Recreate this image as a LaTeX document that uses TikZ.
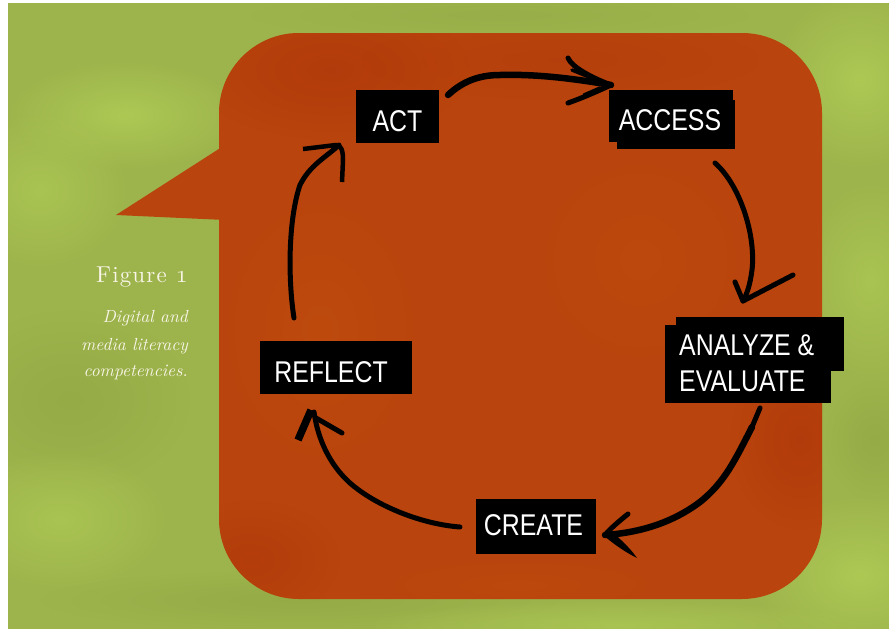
\documentclass[tikz,border=0pt]{standalone}
\usepackage{fontspec}
\newfontfamily\boxfont[FakeStretch=0.83]{Liberation Sans}
\newfontfamily\capfont{lmroman10}[Extension=.otf, UprightFont=*-regular,
  ItalicFont=*-italic, BoldFont=*-bold]
\usetikzlibrary{fadings}

\definecolor{leaf}{HTML}{9DB44C}
\definecolor{leaflight}{HTML}{AFCB55}
\definecolor{leafdark}{HTML}{8CA241}
\definecolor{rust}{HTML}{B9440D}
\definecolor{rustdark}{HTML}{AE360A}
\definecolor{rustlight}{HTML}{C2500F}
\definecolor{cream}{HTML}{F8F4E6}

\tikzfading[name=softspot, inner color=transparent!0, outer color=transparent!100]

\tikzset{
  tag/.style={fill=black, text=white, inner sep=0pt,
    font=\boxfont\fontsize{30}{36}\selectfont},
  tagtext/.style={text=white, inner sep=0pt,
    font=\boxfont\fontsize{30}{36}\selectfont},
  ink/.style={draw=black, line width=5pt, line cap=round, line join=round},
  blob/.style={path fading=softspot},
  caption/.style={text=cream, inner sep=0pt, anchor=base east},
  capline/.style={caption, font=\capfont\itshape\fontsize{17.5}{21}\selectfont}
}

\begin{document}
\begin{tikzpicture}[x=1pt,y=-1pt]
\useasboundingbox (0,0) rectangle (889,629);
\fill[white] (0,0) rectangle (889,629);

% mottled green backdrop
\begin{scope}
  \clip (8,3) rectangle (889,629);
  \fill[leaf] (0,0) rectangle (889,629);
  \fill[leaflight, blob, opacity=0.9] (125,115) ellipse (120 and 55);
  \fill[leaflight, blob, opacity=0.7] (40,190) ellipse (90 and 80);
  \fill[leafdark, blob, opacity=0.5] (70,400) ellipse (120 and 90);
  \fill[leaflight, blob, opacity=0.7] (60,520) ellipse (110 and 70);
  \fill[leafdark, blob, opacity=0.5] (300,600) ellipse (260 and 30);
  \fill[leaflight, blob, opacity=0.9] (860,80) ellipse (90 and 90);
  \fill[leaflight, blob, opacity=0.7] (870,280) ellipse (70 and 100);
  \fill[leafdark, blob, opacity=0.5] (875,440) ellipse (50 and 60);
  \fill[leaflight, blob, opacity=0.9] (860,575) ellipse (110 and 80);
  \fill[leaflight, blob, opacity=0.7] (620,625) ellipse (260 and 25);
  \fill[leafdark, blob, opacity=0.3] (500,15) ellipse (250 and 25);
\end{scope}

% speech bubble
\fill[rust] (225,145) -- (116,215) -- (225,220) -- cycle;
\fill[rust, rounded corners=80pt] (219,33) rectangle (822,599);
\begin{scope}
  \clip[rounded corners=80pt] (219,33) rectangle (822,599);
  \fill[rustdark, blob, opacity=0.6] (330,70) ellipse (140 and 70);
  \fill[rustlight, blob, opacity=0.5] (320,330) ellipse (110 and 150);
  \fill[rustlight, blob, opacity=0.4] (640,260) ellipse (120 and 120);
  \fill[rustdark, blob, opacity=0.6] (800,440) ellipse (70 and 90);
  \fill[rustdark, blob, opacity=0.5] (250,560) ellipse (90 and 60);
  \fill[rustlight, blob, opacity=0.4] (520,585) ellipse (160 and 30);
  \fill[rustdark, blob, opacity=0.3] (560,60) ellipse (200 and 40);
\end{scope}

% caption
\node[caption, font=\capfont\fontsize{23}{27}\selectfont\addfontfeatures{LetterSpace=5}]
  (fig) at (188,282) {Figure {\usefont{OML}{cmm}{m}{it}1}};
\node[capline] (cap1) at (188,322) {Digital and};
\node[capline] (cap2) at (188,350) {media literacy};
\node[capline] (cap3) at (188,376) {competencies.};

% labels
\node[tag, minimum width=83pt, minimum height=53pt, text height=29pt, text depth=0pt]
  (act) at (397.5,116.5) {ACT};
\fill[black] (617,100) rectangle (735,149);
\node[tag, minimum width=124pt, minimum height=52pt, text height=28pt, text depth=0pt]
  (access) at (671,116) {ACCESS\kern2pt};
\fill[black] (676,317) rectangle (844,371);
\fill[black] (665,325) rectangle (831,403);
\node[tagtext, anchor=base west] (analyze) at (679,355) {ANALYZE \&};
\node[tagtext, anchor=base west] (evaluate) at (679,391) {EVALUATE};
\node[tag, minimum width=120pt, minimum height=55pt, text height=17pt, text depth=0pt]
  (create) at (536,526.5) {CREATE\kern5pt};
\node[tag, minimum width=152pt, minimum height=53pt, text height=29pt, text depth=0pt]
  (reflect) at (336,367.5) {REFLECT\kern10pt};

% hand-drawn arrow ends
\coordinate (a1s) at (448,95);  \coordinate (a1e) at (611,85);
\coordinate (a2s) at (715,163); \coordinate (a2e) at (743,301);
\coordinate (a3s) at (760,408); \coordinate (a3e) at (605,535);
\coordinate (a4s) at (460,527); \coordinate (a4e) at (314,412);
\coordinate (a5s) at (294,318); \coordinate (a5e) at (339,145);

% ACT -> ACCESS
\draw[ink, line width=6.5pt] (a1s) .. controls (462,82) and (478,75) .. (500,75)
  .. controls (535,74) and (570,78) .. (a1e);
\draw[ink, line width=5pt] (568,58) .. controls (572,67) and (590,77) .. (a1e);
\draw[ink, line width=3.5pt] (572,70) -- (594,79);
\draw[ink, line width=5pt] (a1e) .. controls (596,92) and (582,98) .. (568,103);
\draw[ink, line width=3.5pt] (584,95) -- (600,88);

% ACCESS -> ANALYZE & EVALUATE
\draw[ink] (a2s) .. controls (740,185) and (756,235) .. (752,270)
  .. controls (750,285) and (747,294) .. (a2e);
\draw[ink] (735,282) -- (a2e) -- (793,275);

% ANALYZE & EVALUATE -> CREATE
\draw[ink] (a3s) -- (752,427);
\draw[ink, line width=6.5pt] (752,427) .. controls (735,460) and (725,482) .. (700,502)
  .. controls (680,517) and (650,532) .. (a3e);
\draw[ink] (628,514) .. controls (618,522) and (610,529) .. (a3e);
\fill[black] (603,535) .. controls (615,545) and (625,552) .. (637,558)
  .. controls (628,545) and (618,538) .. (613,532) -- cycle;

% CREATE -> REFLECT
\draw[ink] (a4s) .. controls (420,524) and (375,505) .. (350,483)
  .. controls (330,465) and (318,440) .. (a4e);
\draw[ink, line width=7.5pt, line cap=butt] (311,410) -- (298,440);
\draw[ink] (316,418) -- (342,433);

% REFLECT -> ACT
\draw[ink] (a5s) .. controls (288,280) and (288,220) .. (300,185)
  .. controls (310,165) and (325,158) .. (a5e);
\draw[ink, line width=4.5pt, line cap=butt] (303,149) -- (336,145)
  .. controls (341,145) and (343,150) .. (343,160) -- (342,182);
\end{tikzpicture}
\end{document}
